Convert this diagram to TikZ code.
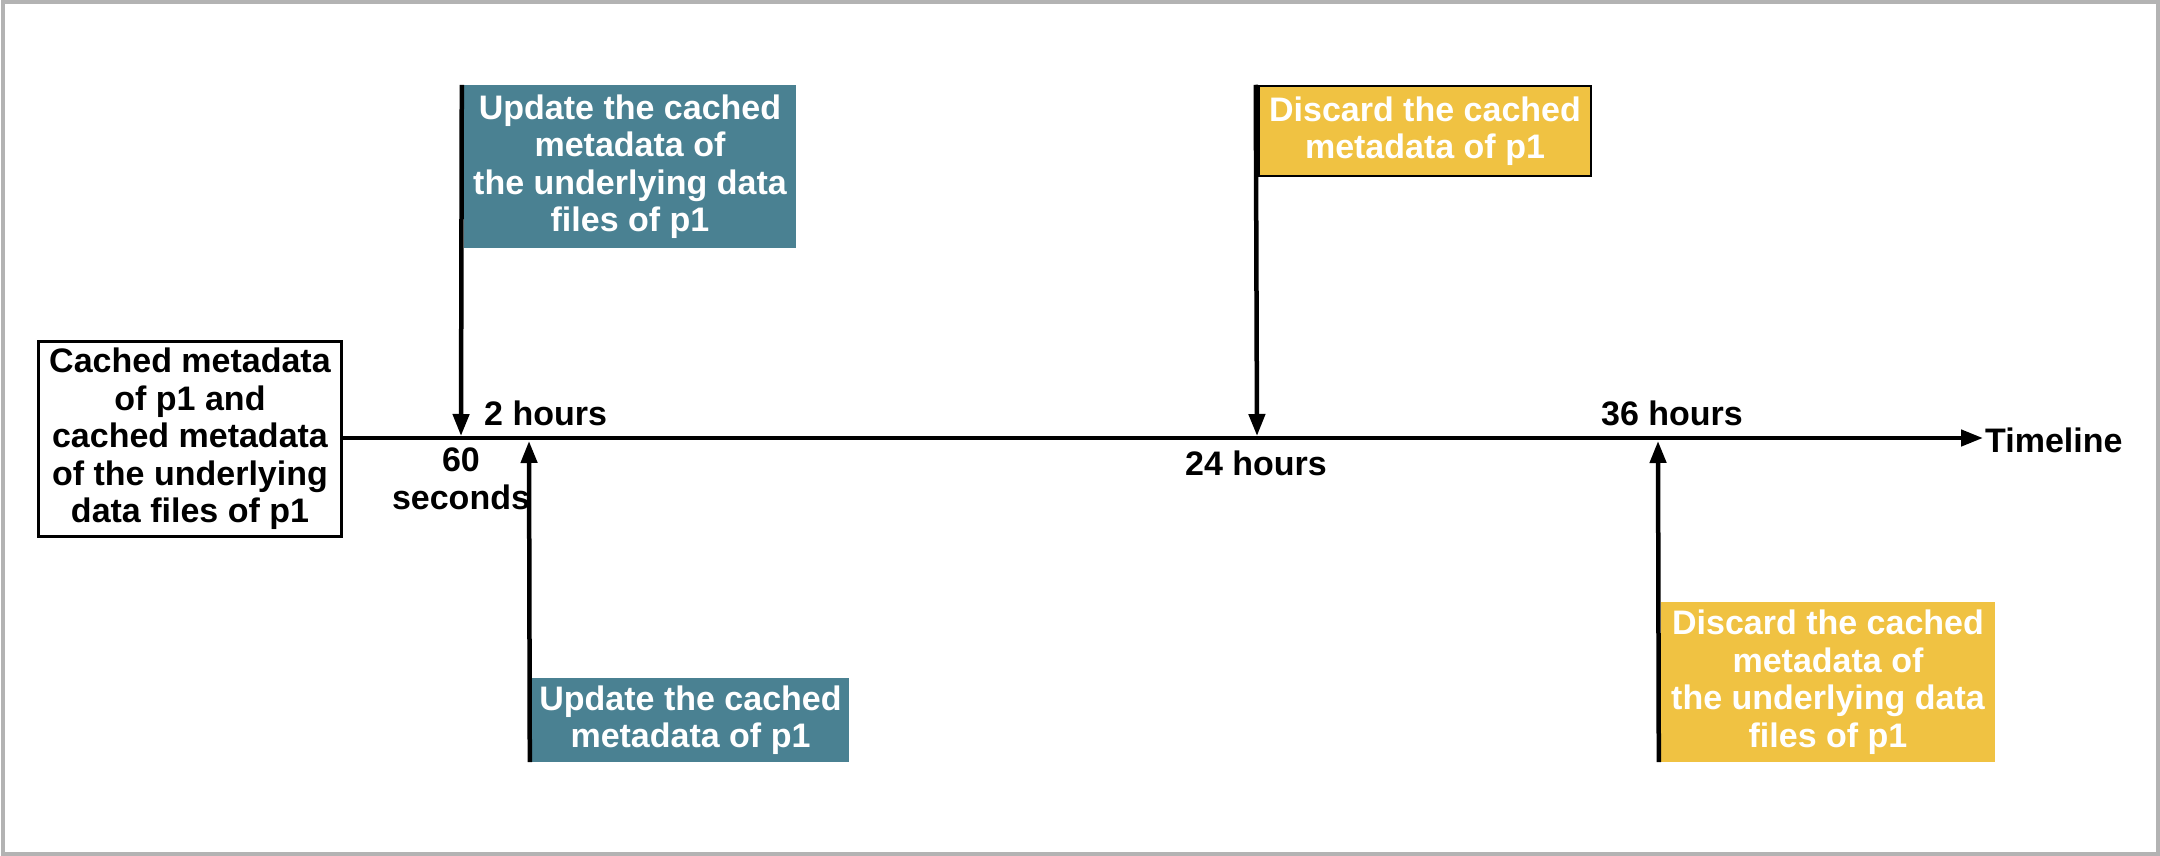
\documentclass[tikz,border=0pt]{standalone}
\usepackage{fontspec}
\setmainfont{Liberation Sans}
\usetikzlibrary{arrows.meta}
\definecolor{tealbg}{HTML}{4A8192}
\definecolor{goldbg}{HTML}{F0C242}
\definecolor{framegray}{HTML}{B3B3B3}
\begin{document}
\begin{tikzpicture}[x=1pt,y=-1pt,
  font=\fontsize{34}{37.5}\selectfont\bfseries,
  arr/.style={line width=4.5pt,-{Triangle[length=22pt,width=16pt]}},
  box/.style={inner sep=0pt,align=center},
  tealbox/.style={box,fill=tealbg,text=white},
  goldbox/.style={box,fill=goldbg,text=white},
  lbl/.style={inner sep=0pt,align=center}]
\useasboundingbox (0,0) rectangle (2160,856);
\draw[framegray,line width=4pt] (3,2) rectangle (2158,854);
% start box
\node[box,draw=black,line width=2.5pt,minimum width=303pt,minimum height=195pt] (start) at (190,439)
  {Cached metadata\\of p1 and\\cached metadata\\of the underlying\\data files of p1};
% event boxes
\node[tealbox,minimum width=332pt,minimum height=163pt] (upd2) at (630,166.5)
  {Update the cached\\metadata of\\the underlying data\\files of p1};
\node[tealbox,minimum width=317pt,minimum height=84pt] (upd1) at (690.5,720)
  {Update the cached\\metadata of p1};
\node[goldbox,draw=black,line width=2.5pt,minimum width=332pt,minimum height=90pt] (dis1) at (1425,131)
  {Discard the cached\\metadata of p1};
\node[goldbox,minimum width=334pt,minimum height=160pt] (dis2) at (1828,682)
  {Discard the cached\\metadata of\\the underlying data\\files of p1};
% timeline
\coordinate (tend) at (1983,438);
\draw[arr] (start.east |- tend) -- (tend);
\node[lbl,anchor=west] (tl) at (1985,440) {Timeline};
% event arrows
\coordinate (a1) at (461,436);
\coordinate (a2) at (529,441);
\coordinate (a3) at (1257,436);
\coordinate (a4) at (1658,441);
\draw[arr] ([xshift=-2pt]upd2.north west) -- (a1);
\draw[arr] ([xshift=-2pt]upd1.south west) -- (a2);
\draw[arr] ([xshift=-2pt]dis1.north west) -- (a3);
\draw[arr] ([xshift=-2pt]dis2.south west) -- (a4);
% labels
\node[lbl,anchor=west] (h2) at (484,413) {2 hours};
\node[lbl] (s60) at (461,479) {60\\seconds};
\node[lbl] (h24) at (1256,463) {24 hours};
\node[lbl] (h36) at (1672,413) {36 hours};
\end{tikzpicture}
\end{document}
